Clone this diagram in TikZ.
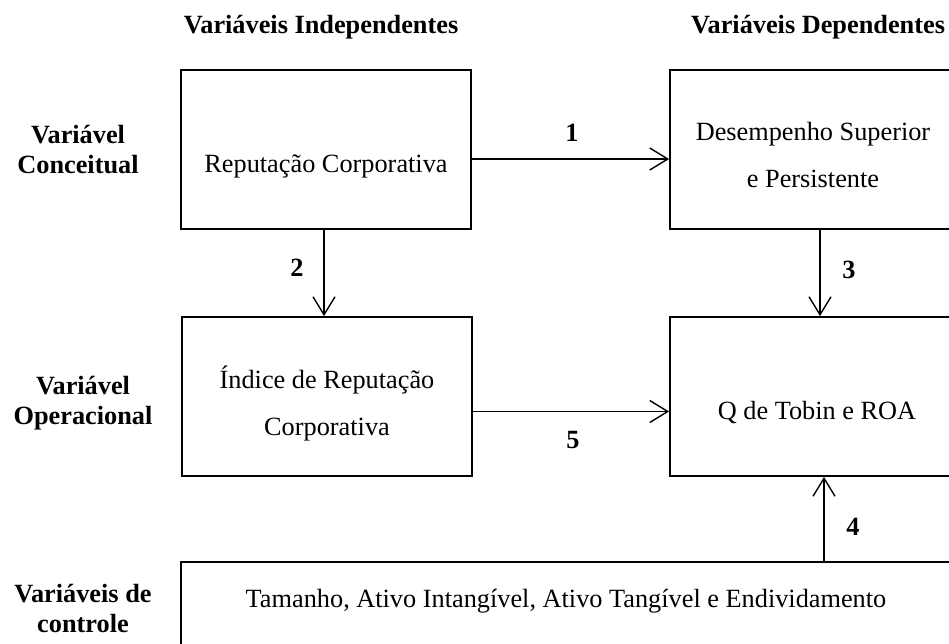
\documentclass[tikz,border=0pt]{standalone}
\usepackage{fontspec}
\setmainfont{Liberation Serif}
\usetikzlibrary{arrows.meta}
\begin{document}
\begin{tikzpicture}[x=1pt,y=-1pt,
  box/.style={draw,line width=1.8pt,minimum width=290pt,minimum height=159pt,inner sep=0pt},
  boxtext/.style={font=\fontsize{26.3}{47}\selectfont,align=center,inner sep=0pt},
  head/.style={font=\fontsize{26.3}{30}\selectfont\bfseries,align=center,inner sep=0pt},
  num/.style={font=\fontsize{26.3}{30}\selectfont\bfseries,inner sep=0pt},
  arr/.style={line width=1.4pt,-{Straight Barb[length=18pt,width=22pt,line width=1.4pt]}}]
\useasboundingbox (0,0) rectangle (949,643);
% headers
\node[head] (hind) at (321,27) {Variáveis Independentes};
\node[head] (hdep) at (818,27) {Variáveis Dependentes};
\node[head] (lconc) at (78,150) {Variável\\Conceitual};
\node[head] (loper) at (83,403) {Variável\\Operacional};
\node[head] (lctrl) at (83,608) {Variáveis de\\controle};
% boxes
\node[box] (b1) at (326,149.5) {};
\node[box] (b2) at (815,149.5) {};
\node[box] (b3) at (327,396.5) {};
\node[box] (b4) at (815,396.5) {};
\node[box,minimum width=800pt,minimum height=120pt] (b5) at (581,622) {};
% texts
\node[boxtext] (t1) at (326,166) {Reputação Corporativa};
\node[boxtext] (t2) at (813,155) {Desempenho Superior\\e Persistente};
\node[boxtext] (t3) at (327,404) {Índice de Reputação\\Corporativa};
\node[boxtext] (t4) at (817,412) {Q de Tobin e ROA};
\node[boxtext] (t5) at (566,601) {Tamanho, Ativo Intangível, Ativo Tangível e Endividamento};
% connectors
\draw[arr] ([yshift=-9.5pt]b1.east) -- ([yshift=-9.5pt]b1.east -| b2.west);
\draw[arr] ([xshift=-2pt]b1.south) -- ([xshift=-2pt]b1.south |- b3.north);
\draw[arr] ([xshift=5pt]b2.south) -- ([xshift=5pt]b2.south |- b4.north);
\draw[arr] ([yshift=-15pt]b3.east) -- ([yshift=-15pt]b3.east -| b4.west);
\draw[arr] (b5.north -| 824,0) -- (b4.south -| 824,0);
% numbers
\node[num] (n1) at (572,133) {1};
\node[num] (n2) at (297,268) {2};
\node[num] (n3) at (849,270) {3};
\node[num] (n4) at (853,527) {4};
\node[num] (n5) at (573,440) {5};
\end{tikzpicture}
\end{document}
